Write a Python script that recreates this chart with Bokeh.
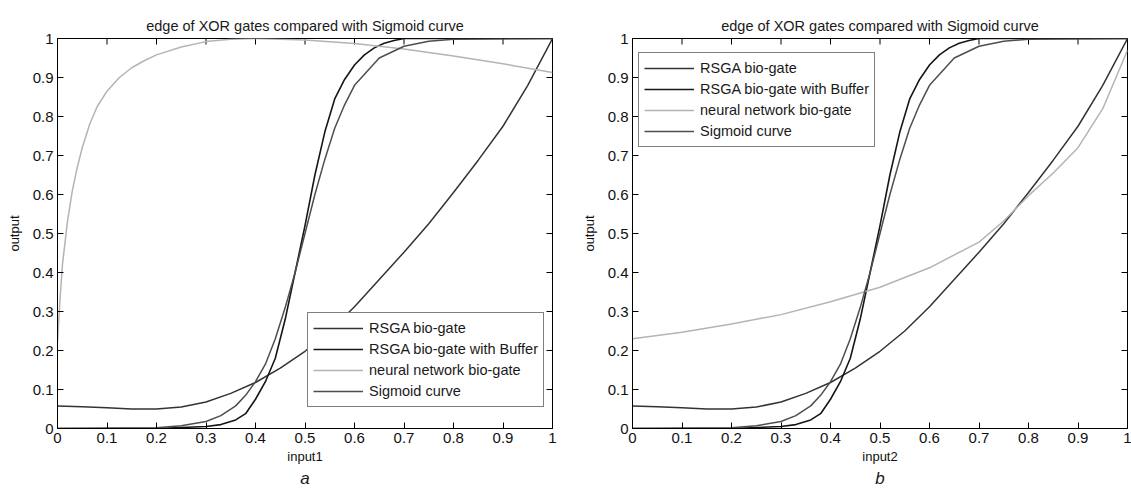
from bokeh.plotting import figure
from bokeh.layouts import row
from bokeh.models import Range1d, FixedTicker, Legend, LegendItem, Title
from bokeh.embed import file_html
from bokeh.resources import INLINE

# ---- data -----------------------------------------------------------------
TICKS = [0, 0.1, 0.2, 0.3, 0.4, 0.5, 0.6, 0.7, 0.8, 0.9, 1]
TICK_LABELS = ["0", "0.1", "0.2", "0.3", "0.4", "0.5", "0.6", "0.7", "0.8", "0.9", "1"]

# RSGA bio-gate (same in both panels)
rsga_x = [0, 0.05, 0.1, 0.15, 0.2, 0.25, 0.3, 0.35, 0.4, 0.45, 0.5, 0.55,
          0.6, 0.65, 0.7, 0.75, 0.8, 0.85, 0.9, 0.95, 1.0]
rsga_y = [0.058, 0.056, 0.053, 0.050, 0.050, 0.055, 0.068, 0.090, 0.118, 0.155,
          0.198, 0.250, 0.312, 0.382, 0.452, 0.525, 0.605, 0.688, 0.775, 0.880, 1.0]

# RSGA bio-gate with Buffer
buf_x = [0, 0.2, 0.3, 0.33, 0.36, 0.38, 0.40, 0.42, 0.44, 0.46, 0.48, 0.50,
         0.52, 0.54, 0.56, 0.58, 0.60, 0.62, 0.64, 0.66, 0.68, 0.70, 0.8, 1.0]
buf_y = [0, 0, 0.005, 0.010, 0.022, 0.038, 0.075, 0.12, 0.18, 0.28, 0.40, 0.52,
         0.65, 0.76, 0.845, 0.895, 0.932, 0.958, 0.976, 0.988, 0.995, 1.0, 1.0, 1.0]

# Sigmoid curve
sig_x = [0, 0.2, 0.25, 0.3, 0.33, 0.36, 0.38, 0.40, 0.42, 0.44, 0.46, 0.48, 0.50,
         0.52, 0.54, 0.56, 0.58, 0.60, 0.65, 0.70, 0.75, 0.80, 1.0]
sig_y = [0, 0.002, 0.007, 0.018, 0.033, 0.058, 0.085, 0.12, 0.165, 0.23, 0.31,
         0.40, 0.50, 0.60, 0.69, 0.77, 0.83, 0.88, 0.95, 0.980, 0.993, 0.998, 1.0]

# neural network bio-gate, panel a
nna_x = [0, 0.005, 0.01, 0.02, 0.03, 0.04, 0.05, 0.065, 0.08, 0.1, 0.125, 0.15,
         0.175, 0.2, 0.25, 0.3, 0.35, 0.4, 0.5, 0.6, 0.7, 0.8, 0.9, 1.0]
nna_y = [0.22, 0.33, 0.42, 0.53, 0.61, 0.67, 0.72, 0.78, 0.825, 0.865, 0.90,
         0.925, 0.943, 0.958, 0.978, 0.992, 0.998, 1.0, 0.996, 0.987, 0.973,
         0.955, 0.935, 0.913]

# neural network bio-gate, panel b
nnb_x = [0, 0.1, 0.2, 0.3, 0.4, 0.5, 0.6, 0.7, 0.75, 0.8, 0.85, 0.9, 0.95, 1.0]
nnb_y = [0.23, 0.247, 0.268, 0.292, 0.325, 0.362, 0.412, 0.478, 0.532, 0.597,
         0.655, 0.72, 0.82, 0.97]

NAMES = ["RSGA bio-gate", "RSGA bio-gate with Buffer",
         "neural network bio-gate", "Sigmoid curve"]
COLORS = ["#333333", "#161616", "#b4b4b4", "#4e4e4e"]

FONT = "Liberation Sans"
FRAME_W, FRAME_H = 495, 390
TICK_PX = 6


def panel(nn_x, nn_y, xlabel, tag, width, left, legend_loc):
    p = figure(width=width, height=489, output_backend="svg", toolbar_location=None,
               x_range=Range1d(0, 1), y_range=Range1d(0, 1),
               frame_width=FRAME_W, frame_height=FRAME_H,
               min_border_left=left, min_border_right=width - left - FRAME_W,
               min_border_top=38, min_border_bottom=61,
               background_fill_color="white", border_fill_color="white")
    p.title.text = "edge of XOR gates compared with Sigmoid curve"
    p.title.text_font = FONT
    p.title.text_font_size = "14.5px"
    p.title.text_font_style = "normal"
    p.title.text_color = "#1a1a1a"
    p.title.align = "center"
    p.title.standoff = 9
    p.grid.visible = False
    p.outline_line_color = "black"
    p.outline_line_width = 1

    overrides = {t: s for t, s in zip(TICKS, TICK_LABELS)}
    for ax in (p.xaxis[0], p.yaxis[0]):
        ax.ticker = FixedTicker(ticks=TICKS)
        ax.major_label_overrides = overrides
        ax.major_tick_in = TICK_PX
        ax.major_tick_out = 0
        ax.minor_tick_in = 0
        ax.minor_tick_out = 0
        ax.axis_line_color = "black"
        ax.major_tick_line_color = "black"
        ax.major_label_text_font = FONT
        ax.major_label_text_font_size = "15px"
        ax.major_label_text_color = "#111111"
        ax.axis_label_text_font = FONT
        ax.axis_label_text_font_size = "13px"
        ax.axis_label_text_font_style = "normal"
        ax.axis_label_text_color = "#111111"
    p.xaxis[0].axis_label = xlabel
    p.xaxis[0].major_label_standoff = 4
    p.xaxis[0].axis_label_standoff = 3
    p.yaxis[0].axis_label = "output"
    p.yaxis[0].major_label_standoff = 4
    p.yaxis[0].axis_label_standoff = 8

    # mirrored inward tick marks along the top and right edges of the box
    n = len(TICKS)
    dy = TICK_PX / FRAME_H
    dx = TICK_PX / FRAME_W
    p.segment(x0=TICKS, y0=[1] * n, x1=TICKS, y1=[1 - dy] * n,
              line_color="black", line_width=1)
    p.segment(x0=[1] * n, y0=TICKS, x1=[1 - dx] * n, y1=TICKS,
              line_color="black", line_width=1)

    p.add_layout(Title(text=tag, align="center", text_font=FONT,
                       text_font_size="17px", text_font_style="italic",
                       text_color="#1a1a1a", standoff=0), "below")

    r1 = p.line(rsga_x, rsga_y, line_color=COLORS[0], line_width=1.5)
    r2 = p.line(buf_x, buf_y, line_color=COLORS[1], line_width=1.6)
    r3 = p.line(nn_x, nn_y, line_color=COLORS[2], line_width=1.5)
    r4 = p.line(sig_x, sig_y, line_color=COLORS[3], line_width=1.5)

    legend = Legend(items=[LegendItem(label=nm, renderers=[r])
                           for nm, r in zip(NAMES, [r1, r2, r3, r4])],
                    location=legend_loc, label_text_font=FONT,
                    label_text_font_size="14.5px", label_text_color="#1a1a1a",
                    glyph_width=50, glyph_height=20, label_height=20,
                    label_standoff=6, spacing=1, padding=5, margin=0,
                    border_line_color="black", border_line_width=1,
                    background_fill_color="white", background_fill_alpha=1)
    p.add_layout(legend, "center")
    return p


pa = panel(nna_x, nna_y, "input1", "a", 565, 57, (250, 21))
pb = panel(nnb_x, nnb_y, "input2", "b", 566, 67, (6, 281))

layout = row(pa, pb, spacing=0)
open("out.html", "w").write(file_html(layout, INLINE))
